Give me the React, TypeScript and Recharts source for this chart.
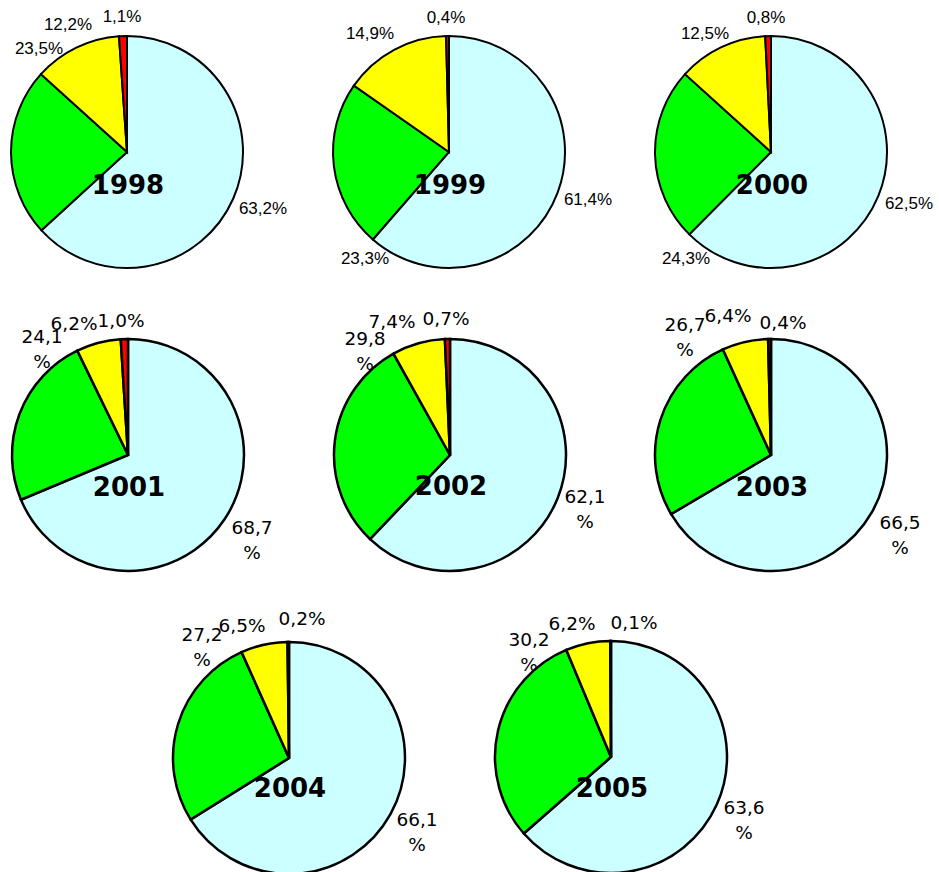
import { PieChart, Pie, Cell } from "recharts";

const years = ["1998", "1999", "2000", "2001", "2002", "2003", "2004", "2005"];
const cyanShare = [63.2, 61.4, 62.5, 68.7, 62.1, 66.5, 66.1, 63.6];
const greenShare = [23.5, 23.3, 24.3, 24.1, 29.8, 26.7, 27.2, 30.2];
const yellowShare = [12.2, 14.9, 12.5, 6.2, 7.4, 6.4, 6.5, 6.2];
const redShare = [1.1, 0.4, 0.8, 1.0, 0.7, 0.4, 0.2, 0.1];

const colors = ["#CCFFFF", "#00FF00", "#FFFF00", "#FF0000"];

// layout: pie centres and where Excel put each label (relative to the centre)
const centres = [
  [127, 152], [449, 152], [771, 152],
  [128, 455], [450, 455], [771, 455],
  [289, 758], [611, 757],
];
const yearDy = [33, 33, 33, 32, 31, 32, 30, 31];
const labelOffsets = [
  [[136, 56], [-88, -104], [-59, -128], [-5, -136]],
  [[139, 47], [-84, 106], [-79, -119], [-3, -135]],
  [[138, 51], [-85, 106], [-66, -119], [-5, -135]],
  [[124, 85], [-86, -106], [-54, -132], [-7, -135]],
  [[135, 54], [-85, -104], [-58, -134], [-4, -137]],
  [[129, 80], [-86, -118], [-43, -140], [12, -133]],
  [[128, 74], [-87, -111], [-47, -133], [13, -140]],
  [[133, 63], [-82, -105], [-39, -134], [23, -135]],
];

const fmt = (v: number) => v.toFixed(1).replace(".", ",");

const renderLabel = (yi: number) => (props: any) => {
  const { cx, cy, index, value } = props;
  const [dx, dy] = labelOffsets[yi][index];
  const x = cx + dx;
  const y = cy + dy;
  const firstRow = yi < 3;
  const font = firstRow
    ? { fontFamily: "'Liberation Sans', Arial, sans-serif", fontSize: 17 }
    : { fontFamily: "'DejaVu Sans', Verdana, sans-serif", fontSize: 18.5 };
  const wrap = !firstRow && value >= 10;
  return (
    <g key={`lbl-${yi}-${index}`}>
      {wrap ? (
        <>
          <text x={x} y={y - 12.5} textAnchor="middle" dominantBaseline="central" fill="#000" style={font}>
            {fmt(value)}
          </text>
          <text x={x} y={y + 12.5} textAnchor="middle" dominantBaseline="central" fill="#000" style={font}>
            %
          </text>
        </>
      ) : (
        <text x={x} y={y} textAnchor="middle" dominantBaseline="central" fill="#000" style={font}>
          {fmt(value) + "%"}
        </text>
      )}
      {index === 0 && (
        <text
          x={cx + 1}
          y={cy + yearDy[yi]}
          textAnchor="middle"
          dominantBaseline="central"
          fill="#000"
          style={{ fontFamily: "'DejaVu Sans', Verdana, sans-serif", fontSize: 26, fontWeight: "bold" }}
        >
          {years[yi]}
        </text>
      )}
    </g>
  );
};

export default function App() {
  return (
    <div style={{ position: "absolute", left: 0, top: 0, width: 939, height: 872, background: "#fff" }}>
      <PieChart width={939} height={872} margin={{ top: 0, right: 0, bottom: 0, left: 0 }}>
        {years.map((y, i) => {
          const data = [
            { name: "cyan", value: cyanShare[i] },
            { name: "green", value: greenShare[i] },
            { name: "yellow", value: yellowShare[i] },
            { name: "red", value: redShare[i] },
          ];
          return (
            <Pie
              key={y}
              data={data}
              dataKey="value"
              cx={centres[i][0]}
              cy={centres[i][1]}
              outerRadius={116}
              startAngle={90}
              endAngle={-270}
              stroke="#000"
              strokeWidth={i < 3 ? 2 : 2.5}
              labelLine={false}
              label={renderLabel(i)}
              isAnimationActive={false}
            >
              {data.map((d, k) => (
                <Cell key={d.name} fill={colors[k]} />
              ))}
            </Pie>
          );
        })}
      </PieChart>
    </div>
  );
}
